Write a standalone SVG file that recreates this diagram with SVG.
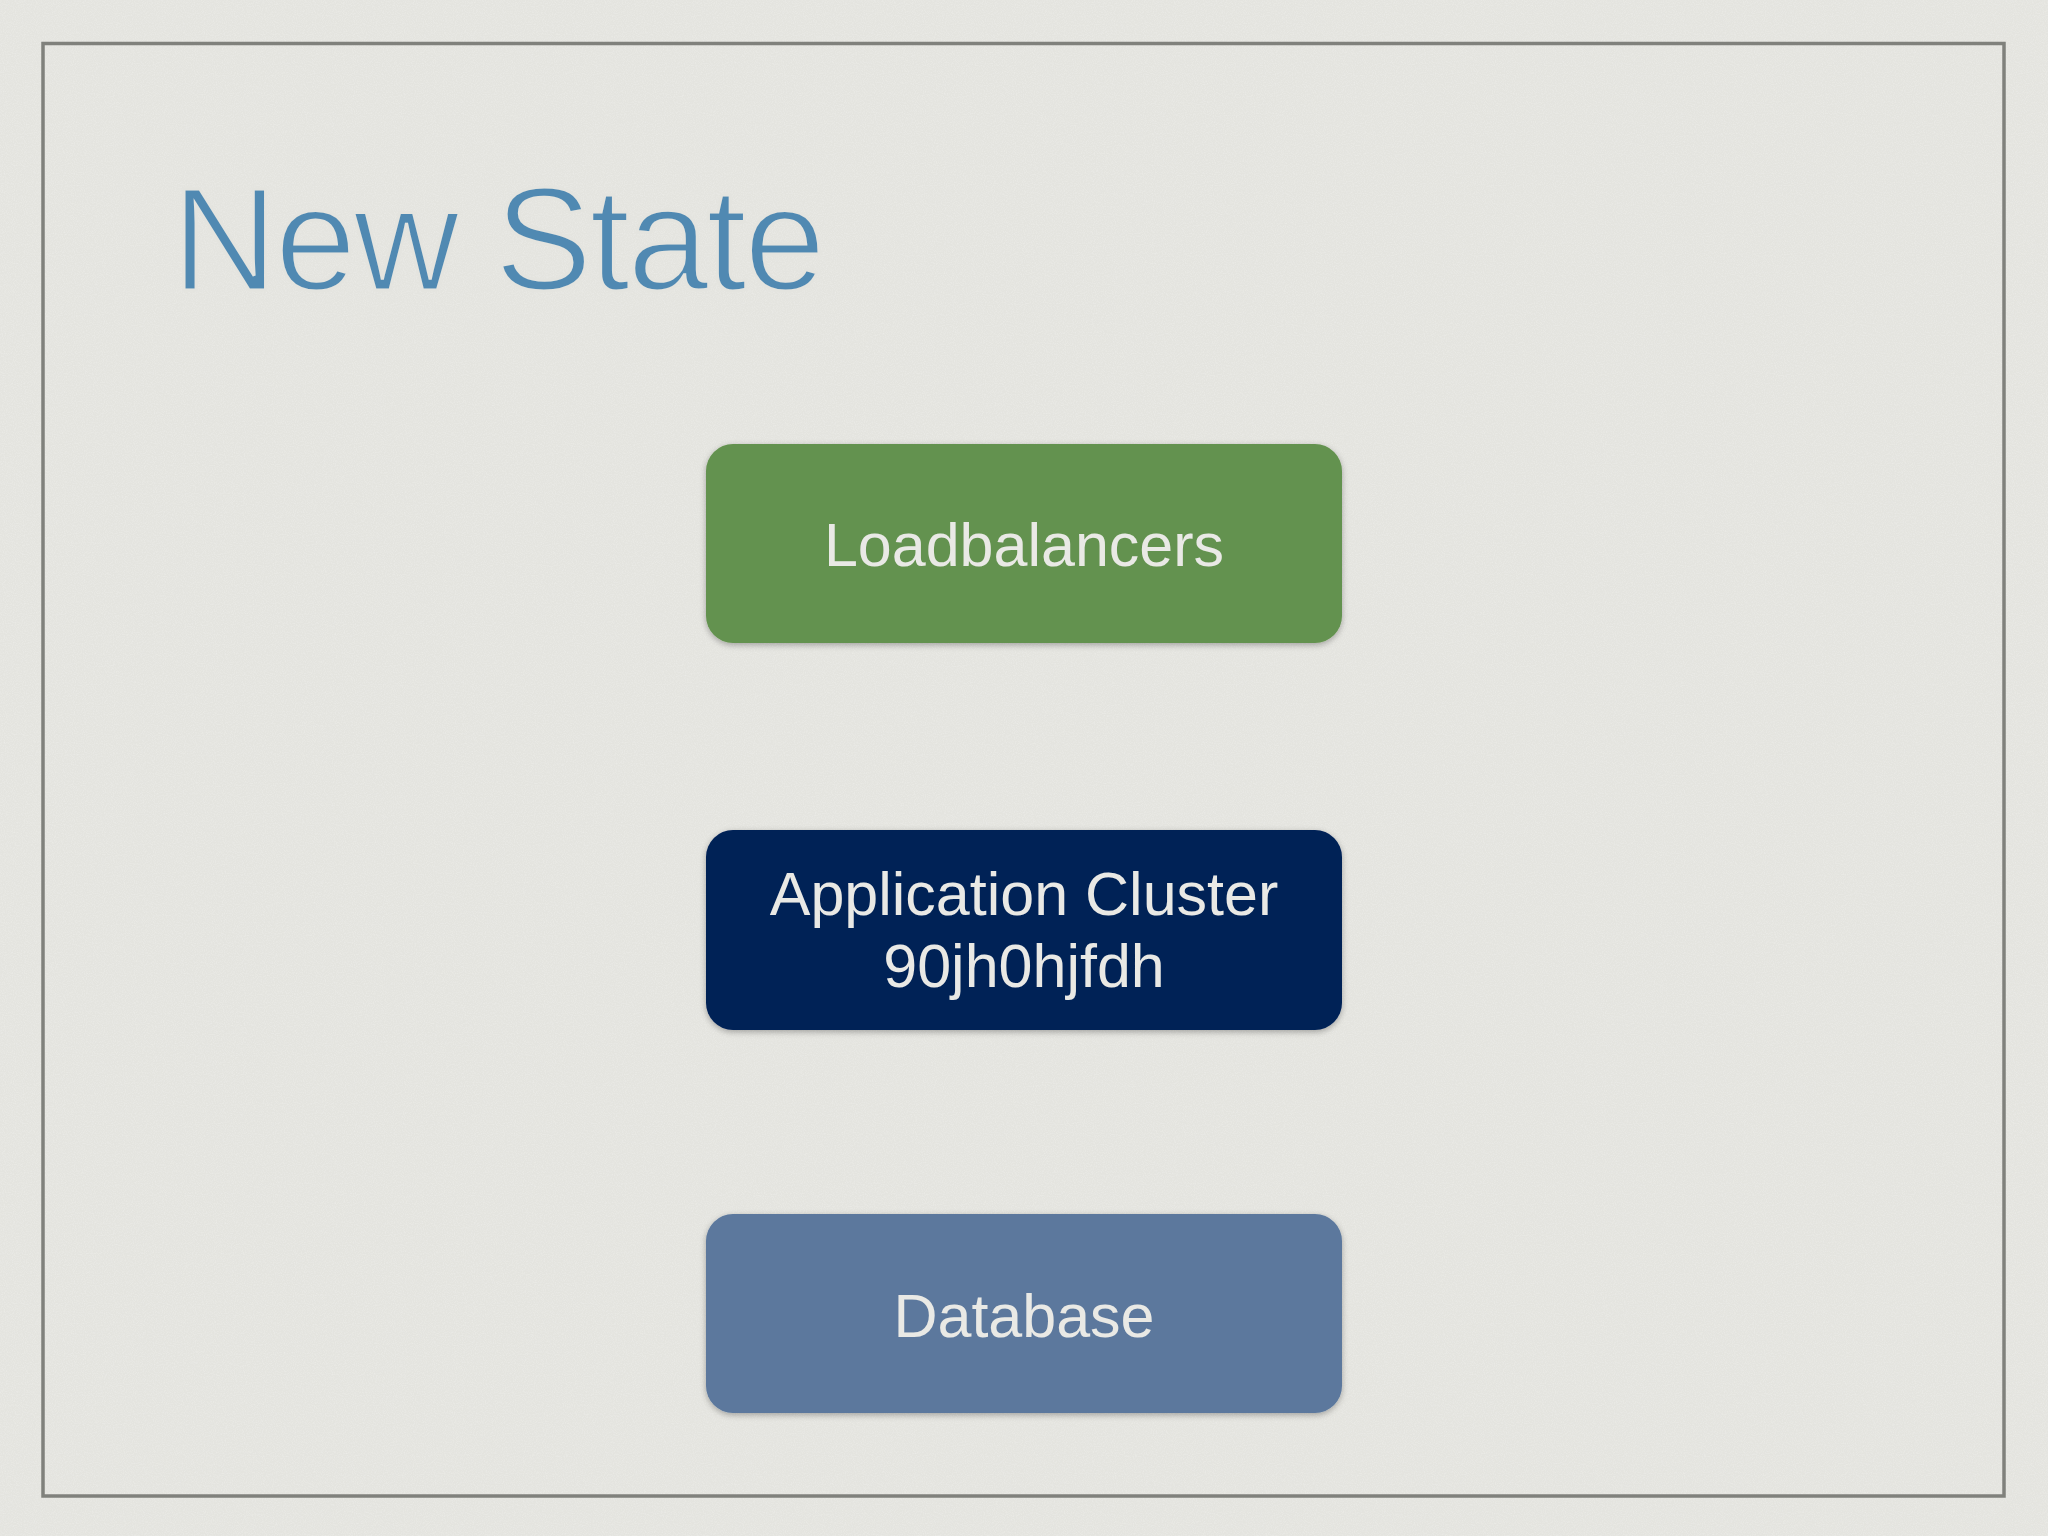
<svg xmlns="http://www.w3.org/2000/svg" width="2048" height="1536" viewBox="0 0 2048 1536">
  <defs>
    <filter id="noise" x="0" y="0" width="100%" height="100%">
      <feTurbulence type="fractalNoise" baseFrequency="0.9" numOctaves="2" seed="3" result="n"/>
      <feColorMatrix in="n" type="matrix" values="0 0 0 0 1  0 0 0 0 1  0 0 0 0 1  0 0 0 0.9 -0.35" result="w"/>
      <feComposite in="w" in2="SourceGraphic" operator="in"/>
    </filter>
    <filter id="shadow" x="-5%" y="-10%" width="110%" height="125%">
      <feGaussianBlur in="SourceAlpha" stdDeviation="3"/>
      <feOffset dx="0" dy="2" result="b"/>
      <feComponentTransfer><feFuncA type="linear" slope="0.3"/></feComponentTransfer>
      <feMerge><feMergeNode/><feMergeNode in="SourceGraphic"/></feMerge>
    </filter>
  </defs>
  <style>
    .label { font-family: "Liberation Sans", Arial, sans-serif; font-size: 61px; fill: #E9E9E5; text-anchor: middle; }
    .box { filter: url(#shadow); }
  </style>
  <rect width="2048" height="1536" fill="#E4E4DF"/>
  <rect width="2048" height="1536" fill="#E5E5E0" filter="url(#noise)" opacity="0.5"/>
  <rect x="43" y="43.5" width="1961" height="1452.5" fill="none" stroke="#80817C" stroke-width="3.5"/>
  <text x="172" y="290" font-family="'Liberation Sans', Arial, sans-serif" font-size="146" letter-spacing="-2.5" fill="#5089B2" stroke="#E4E4DF" stroke-width="3">New State</text>
  <g id="connectors"></g>
  <g id="node-loadbalancers">
    <rect class="box" x="706" y="444" width="636" height="199" rx="27" ry="27" fill="#64924F"/>
    <text class="label" x="1024" y="566">Loadbalancers</text>
  </g>
  <g id="node-application-cluster">
    <rect class="box" x="706" y="830" width="636" height="200" rx="27" ry="27" fill="#032257"/>
    <text class="label" x="1024" y="915">Application Cluster</text>
    <text class="label" x="1024" y="987">90jh0hjfdh</text>
  </g>
  <g id="node-database">
    <rect class="box" x="706" y="1214" width="636" height="199" rx="27" ry="27" fill="#5B789D"/>
    <text class="label" x="1024" y="1337">Database</text>
  </g>
</svg>
